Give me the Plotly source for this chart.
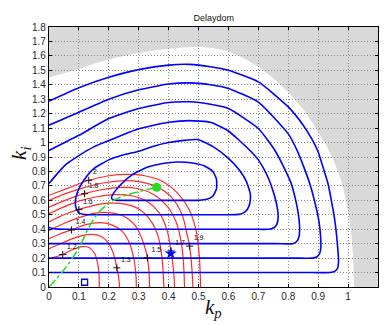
import plotly.graph_objects as go

# ---------------- data ----------------
# boundary of the unstable (gray) region
bnd_kp = [0.0, 0.05, 0.1, 0.15, 0.2, 0.25, 0.3, 0.35, 0.4, 0.45, 0.5, 0.55, 0.6, 0.65, 0.7, 0.75, 0.8, 0.85, 0.9, 0.93, 0.955, 0.975, 0.99, 1.003, 1.012, 1.018, 1.02]
bnd_ki = [1.45, 1.48, 1.51, 1.545, 1.575, 1.60, 1.62, 1.638, 1.65, 1.658, 1.662, 1.655, 1.63, 1.585, 1.525, 1.445, 1.35, 1.23, 1.075, 0.97, 0.86, 0.75, 0.63, 0.49, 0.34, 0.17, 0.0]

# blue contours
blue1_kp = [0.0, 0.1, 0.2, 0.3, 0.4, 0.47, 0.54, 0.6, 0.7, 0.8, 0.85, 0.88, 0.9, 0.916, 0.933, 0.944, 0.954, 0.961, 0.966, 0.968, 0.965, 0.955, 0.94, 0.88, 0.7, 0.0]
blue1_ki = [1.287, 1.38, 1.452, 1.505, 1.536, 1.541, 1.525, 1.50, 1.42, 1.247, 1.12, 1.02, 0.935, 0.83, 0.715, 0.6, 0.484, 0.369, 0.253, 0.175, 0.13, 0.108, 0.1, 0.1, 0.1, 0.1]
blue2_kp = [0.0, 0.1, 0.2, 0.3, 0.4, 0.47, 0.54, 0.6, 0.7, 0.8, 0.829, 0.852, 0.872, 0.894, 0.903, 0.908, 0.909, 0.905, 0.895, 0.88, 0.82, 0.65, 0.0]
blue2_ki = [1.12, 1.21, 1.30, 1.365, 1.405, 1.413, 1.40, 1.375, 1.28, 1.06, 0.947, 0.83, 0.715, 0.542, 0.45, 0.35, 0.275, 0.232, 0.208, 0.2, 0.2, 0.2, 0.2]
blue3_kp = [0.0, 0.1, 0.2, 0.3, 0.4, 0.47, 0.54, 0.6, 0.7, 0.755, 0.785, 0.81, 0.825, 0.834, 0.838, 0.836, 0.828, 0.815, 0.76, 0.6, 0.0]
blue3_ki = [0.945, 1.05, 1.166, 1.236, 1.277, 1.282, 1.265, 1.236, 1.097, 0.947, 0.83, 0.715, 0.6, 0.5, 0.41, 0.35, 0.315, 0.3, 0.3, 0.3, 0.3]
blue4_kp = [0.0, 0.03, 0.058, 0.1, 0.15, 0.203, 0.3, 0.4, 0.47, 0.54, 0.6, 0.671, 0.7, 0.73, 0.752, 0.764, 0.766, 0.762, 0.752, 0.735, 0.68, 0.5, 0.06, 0.03, 0.012, 0.0]
blue4_ki = [0.716, 0.79, 0.85, 0.91, 0.97, 1.016, 1.095, 1.14, 1.152, 1.14, 1.08, 0.947, 0.88, 0.77, 0.646, 0.54, 0.48, 0.435, 0.41, 0.4, 0.4, 0.4, 0.4, 0.401, 0.405, 0.412]
blue5_kp = [0.3, 0.2, 0.13, 0.113, 0.1, 0.093, 0.088, 0.09, 0.1, 0.12, 0.15, 0.2, 0.25, 0.3, 0.35, 0.4, 0.45, 0.5, 0.55, 0.6, 0.637, 0.66, 0.673, 0.672, 0.664, 0.652, 0.635, 0.6, 0.5, 0.3]
blue5_ki = [0.5, 0.5, 0.5, 0.503, 0.513, 0.535, 0.57, 0.62, 0.68, 0.75, 0.82, 0.88, 0.915, 0.94, 0.975, 1.0, 1.015, 1.02, 0.97, 0.89, 0.808, 0.73, 0.646, 0.585, 0.54, 0.515, 0.503, 0.5, 0.5, 0.5]
blue6_kp = [0.35, 0.45, 0.5, 0.528, 0.548, 0.56, 0.56, 0.548, 0.52, 0.48, 0.43, 0.38, 0.33, 0.28, 0.24, 0.218, 0.209, 0.212, 0.225, 0.26, 0.35]
blue6_ki = [0.6, 0.6, 0.6, 0.607, 0.63, 0.68, 0.745, 0.80, 0.838, 0.858, 0.865, 0.855, 0.83, 0.78, 0.71, 0.655, 0.622, 0.606, 0.6, 0.6, 0.6]

# red contours (levels 1.2 ... 2)
red_levels = ["1.2", "1.3", "1.4", "1.5", "1.6", "1.7", "1.8", "1.9", "2"]
red_kp = [
    [0.0, 0.046, 0.08, 0.11, 0.135, 0.152, 0.162, 0.167, 0.168],
    [0.0, 0.05, 0.1, 0.14, 0.175, 0.2, 0.217, 0.227, 0.234, 0.236],
    [0.0, 0.04, 0.075, 0.12, 0.17, 0.21, 0.245, 0.27, 0.285, 0.291, 0.292],
    [0.0, 0.05, 0.1, 0.15, 0.2, 0.25, 0.29, 0.315, 0.329, 0.335, 0.336],
    [0.0, 0.05, 0.1, 0.15, 0.2, 0.25, 0.3, 0.34, 0.365, 0.378, 0.384],
    [0.0, 0.05, 0.1, 0.16, 0.22, 0.28, 0.33, 0.37, 0.395, 0.408, 0.417, 0.42],
    [0.0, 0.06, 0.119, 0.18, 0.24, 0.3, 0.35, 0.395, 0.425, 0.443, 0.451, 0.453],
    [0.0, 0.06, 0.12, 0.18, 0.24, 0.3, 0.36, 0.41, 0.445, 0.462, 0.47, 0.478, 0.481],
    [0.0, 0.07, 0.133, 0.2, 0.26, 0.32, 0.38, 0.43, 0.47, 0.493, 0.503, 0.507],
]
red_ki = [
    [0.196, 0.225, 0.26, 0.28, 0.272, 0.235, 0.17, 0.09, 0.0],
    [0.265, 0.31, 0.35, 0.365, 0.35, 0.30, 0.22, 0.133, 0.05, 0.0],
    [0.334, 0.37, 0.395, 0.43, 0.445, 0.43, 0.385, 0.30, 0.18, 0.07, 0.0],
    [0.392, 0.44, 0.48, 0.51, 0.515, 0.49, 0.42, 0.31, 0.202, 0.08, 0.0],
    [0.45, 0.50, 0.537, 0.565, 0.58, 0.575, 0.54, 0.46, 0.35, 0.20, 0.0],
    [0.508, 0.555, 0.595, 0.625, 0.64, 0.63, 0.59, 0.51, 0.39, 0.25, 0.10, 0.0],
    [0.553, 0.605, 0.646, 0.675, 0.69, 0.68, 0.64, 0.56, 0.45, 0.30, 0.12, 0.0],
    [0.60, 0.65, 0.69, 0.72, 0.735, 0.73, 0.695, 0.62, 0.50, 0.36, 0.283, 0.12, 0.0],
    [0.635, 0.69, 0.739, 0.77, 0.78, 0.77, 0.73, 0.65, 0.53, 0.38, 0.20, 0.0],
]
label_kp = [0.046, 0.227, 0.075, 0.329, 0.10, 0.408, 0.119, 0.47, 0.133]
label_ki = [0.225, 0.133, 0.395, 0.202, 0.537, 0.25, 0.646, 0.283, 0.739]

# green path and markers
green_kp = [0.0, 0.05, 0.1, 0.13, 0.16, 0.2, 0.25, 0.3, 0.36]
green_ki = [0.0, 0.12, 0.27, 0.40, 0.50, 0.58, 0.63, 0.66, 0.69]
dot_pt = (0.36, 0.69)
star_pt = (0.407, 0.232)
square_pt = (0.119, 0.033)

x_ticks = [round(0.1 * i, 1) for i in range(12)]
y_ticks = [round(0.1 * i, 1) for i in range(19)]

# ---------------- figure ----------------
fig = go.Figure()

path = "M 0,1.8 " + " ".join(f"L {x},{y}" for x, y in zip(bnd_kp, bnd_ki)) + " L 1.1,0 L 1.1,1.8 Z"
fig.add_shape(type="path", path=path, xref="x", yref="y", fillcolor="#d9d9d9",
              line=dict(width=0), layer="below")

for kp, ki in zip(red_kp, red_ki):
    fig.add_trace(go.Scatter(x=kp, y=ki, mode="lines",
                             line=dict(color="#ff2a2a", width=1.2, shape="spline", smoothing=0.8),
                             hoverinfo="skip", showlegend=False))

for kp, ki in [(blue1_kp, blue1_ki), (blue2_kp, blue2_ki), (blue3_kp, blue3_ki),
               (blue4_kp, blue4_ki), (blue5_kp, blue5_ki), (blue6_kp, blue6_ki)]:
    fig.add_trace(go.Scatter(x=kp, y=ki, mode="lines",
                             line=dict(color="#0000ff", width=1.6, shape="spline", smoothing=0.5),
                             hoverinfo="skip", showlegend=False))

fig.add_trace(go.Scatter(x=green_kp, y=green_ki, mode="lines",
                         line=dict(color="#22dd22", width=1.5, dash="dashdot", shape="spline"),
                         hoverinfo="skip", showlegend=False))

fig.add_trace(go.Scatter(x=label_kp, y=label_ki, mode="markers+text", text=red_levels,
                         textposition="top right", textfont=dict(size=7, color="#111111", family="Arial"),
                         marker=dict(symbol="cross-thin", size=5, line=dict(color="#111111", width=1)),
                         hoverinfo="skip", showlegend=False))

fig.add_trace(go.Scatter(x=[dot_pt[0]], y=[dot_pt[1]], mode="markers",
                         marker=dict(color="#22dd22", size=9), showlegend=False))
fig.add_trace(go.Scatter(x=[star_pt[0]], y=[star_pt[1]], mode="markers",
                         marker=dict(color="#0000ff", size=9, symbol="star"), showlegend=False))
fig.add_trace(go.Scatter(x=[square_pt[0]], y=[square_pt[1]], mode="markers",
                         marker=dict(color="#0000ff", size=6, symbol="square-open", line=dict(width=1.3)), showlegend=False))

axis_common = dict(showgrid=True, gridcolor="#8a8a8a", griddash="1px,2px", gridwidth=1,
                   showline=True, linecolor="black", linewidth=1.2, mirror="ticks",
                   ticks="inside", ticklen=3, tickcolor="black", zeroline=False,
                   tickfont=dict(family="Arial", size=10, color="#262626"))

fig.update_layout(
    width=385, height=325,
    margin=dict(l=49, r=7, t=27, b=38),
    paper_bgcolor="white", plot_bgcolor="white",
    title=dict(text="Delaydom", x=0.555, xanchor="center", y=0.945, yanchor="middle",
               font=dict(family="Arial", size=9, color="#111111")),
    xaxis=dict(range=[0, 1.1], tickvals=x_ticks, ticktext=[f"{v:g}" for v in x_ticks], **axis_common),
    yaxis=dict(range=[0, 1.8], tickvals=y_ticks, ticktext=[f"{v:g}" for v in y_ticks], **axis_common),
    annotations=[
        dict(text="<i>k<sub>p</sub></i>", xref="paper", yref="paper", x=0.5, y=-0.079,
             xanchor="center", yanchor="middle", showarrow=False,
             font=dict(family="Liberation Serif", size=21, color="#111111")),
        dict(text="<i>k<sub>i</sub></i>", xref="paper", yref="paper", x=-0.088, y=0.512,
             xanchor="center", yanchor="middle", showarrow=False, textangle=-90,
             font=dict(family="Liberation Serif", size=21, color="#111111")),
    ],
)

fig.write_html("out.html")
